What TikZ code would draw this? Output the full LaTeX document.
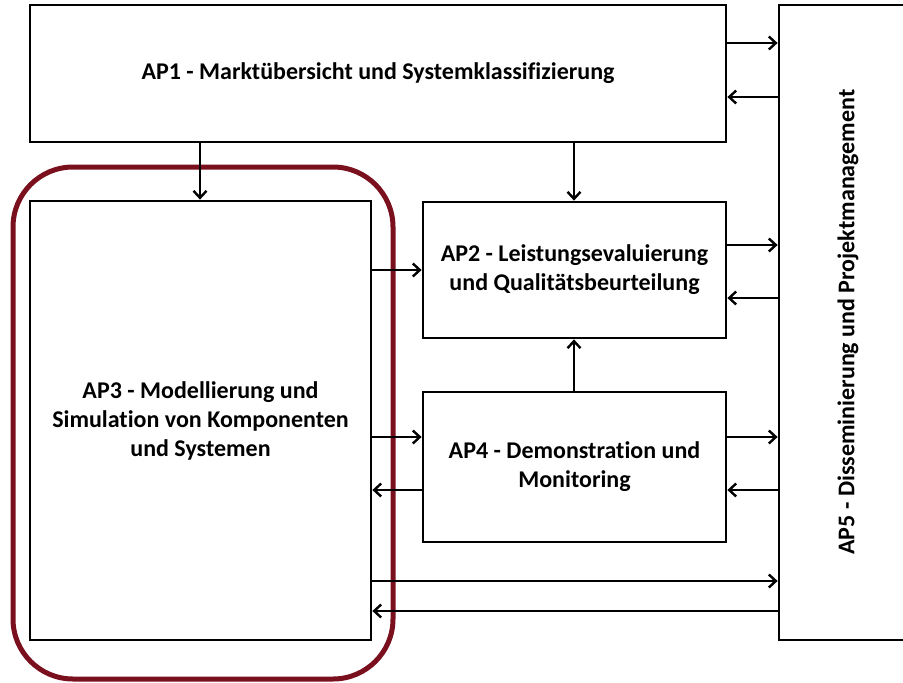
\documentclass[tikz,border=0pt]{standalone}
\usepackage{fontspec}
\setmainfont{Carlito}[Ligatures=NoCommon]
\usetikzlibrary{arrows.meta}
\definecolor{apred}{HTML}{7A0F1E}
\begin{document}
\begin{tikzpicture}[x=1pt,y=-1pt,
  lbl/.style={font=\fontsize{24}{29}\selectfont\bfseries},
  box/.style={draw=black,line width=2.8pt,fill=white,inner sep=0pt,align=center,lbl},
  conn/.style={line width=2.8pt,-{Straight Barb[length=7pt,width=13pt,line width=2.4pt]}}]
\useasboundingbox (0,0) rectangle (903,683);
% red highlight
\draw[apred,line width=5pt,rounded corners=60pt] (13,167) rectangle (393,679);
% boxes
\node[box,minimum width=696pt,minimum height=137pt] (ap1) at (378,73.5) {AP1 - Marktübersicht und Systemklassifizierung};
\node[box,minimum width=341pt,minimum height=439pt] (ap3) at (200.5,420.5) {AP3 - Modellierung und\\Simulation von Komponenten\\und Systemen};
\node[box,minimum width=303pt,minimum height=136pt] (ap2) at (574.5,270) {AP2 - Leistungsevaluierung\\und Qualitätsbeurteilung};
\node[box,minimum width=303pt,minimum height=150pt] (ap4) at (574.5,467) {AP4 - Demonstration und\\Monitoring};
\node[box,minimum width=160pt,minimum height=635pt] (ap5) at (859,322.5) {};
\node[lbl,rotate=90] (ap5t) at (848,322) {AP5 - Disseminierung und Projektmanagement};
% connectors
\draw[conn] (ap1.south -| 200,0) -- (ap3.north -| 200,0);
\draw[conn] (ap1.south -| 574,0) -- (ap2.north -| 574,0);
\draw[conn] (ap4.north -| 574,0) -- (ap2.south -| 574,0);
\draw[conn] (ap1.east |- 0,43) -- (ap5.west |- 0,43);
\draw[conn] (ap5.west |- 0,97) -- (ap1.east |- 0,97);
\draw[conn] (ap2.east |- 0,245) -- (ap5.west |- 0,245);
\draw[conn] (ap5.west |- 0,298) -- (ap2.east |- 0,298);
\draw[conn] (ap3.east |- 0,270) -- (ap2.west |- 0,270);
\draw[conn] (ap3.east |- 0,437) -- (ap4.west |- 0,437);
\draw[conn] (ap4.west |- 0,490) -- (ap3.east |- 0,490);
\draw[conn] (ap4.east |- 0,437) -- (ap5.west |- 0,437);
\draw[conn] (ap5.west |- 0,490) -- (ap4.east |- 0,490);
\draw[conn] (ap3.east |- 0,581) -- (ap5.west |- 0,581);
\draw[conn] (ap5.west |- 0,611) -- (ap3.east |- 0,611);
\end{tikzpicture}
\end{document}
